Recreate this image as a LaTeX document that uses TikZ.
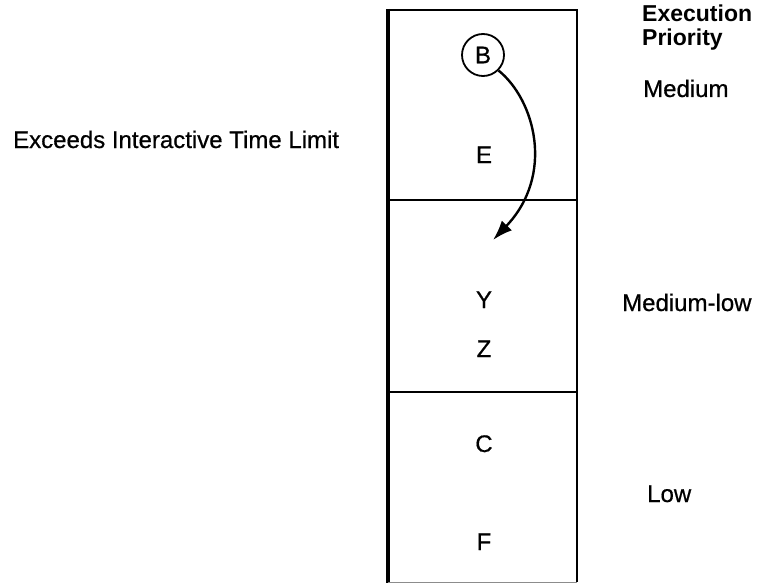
\documentclass[tikz,border=0pt]{standalone}
\usepackage{fontspec}
\setmainfont{Liberation Sans}[FakeBold=0.6, BoldFeatures={FakeBold=0}]
\usetikzlibrary{arrows.meta}

\begin{document}
\begin{tikzpicture}[
    x=1pt, y=-1pt,
    every node/.style={inner sep=0pt, font=\fontsize{24}{28}\selectfont},
    label/.style={anchor=base west},
    job/.style={anchor=base},
    head/.style={anchor=base west, font=\fontsize{23}{28}\selectfont\bfseries},
    frame/.style={line width=2.6pt},
    divider/.style={line width=2pt},
    move/.style={line width=2.4pt, -{Latex[length=20pt, width=14pt]}}
]
   \useasboundingbox (0,0) rectangle (757,583);

   % queue column and its three bands
   \draw[frame] (388,583) -- (388,10) -- (577,10) -- (577,582);
   \draw[line width=4pt] (388,9) -- (388,583);
   \draw[black!45, line width=0.8pt] (388,582) -- (577,582);
   \coordinate (topband) at (388,200);
   \coordinate (lowband) at (388,392);
   \draw[divider] (topband) -- +(189,0);
   \draw[divider] (lowband) -- +(189,0);

   % jobs
   \node[draw, circle, line width=1.8pt, minimum size=42pt] (b) at (483,55) {B};
   \node[job] (e) at (484,163) {E};
   \node[job] (y) at (484,308) {Y};
   \node[job] (z) at (484,357) {Z};
   \node[job] (c) at (484,452) {C};
   \node[job] (f) at (484,550) {F};

   % priorities
   \node[head] (exec) at (642,22) {Execution};
   \node[head] (prio) at (642,46) {Priority};
   \node[label] (medium) at (643,97) {Medium};
   \node[label] (medlow) at (622,311) {Medium-low};
   \node[label] (low) at (647,502) {Low};

   \node[label] (limit) at (13,148) {Exceeds Interactive Time Limit};

   % B drops down a band
   \coordinate (drop) at (493,240);
   \draw[move] (b.-45) .. controls (535,100) and (555,175) .. (drop);
\end{tikzpicture}
\end{document}
